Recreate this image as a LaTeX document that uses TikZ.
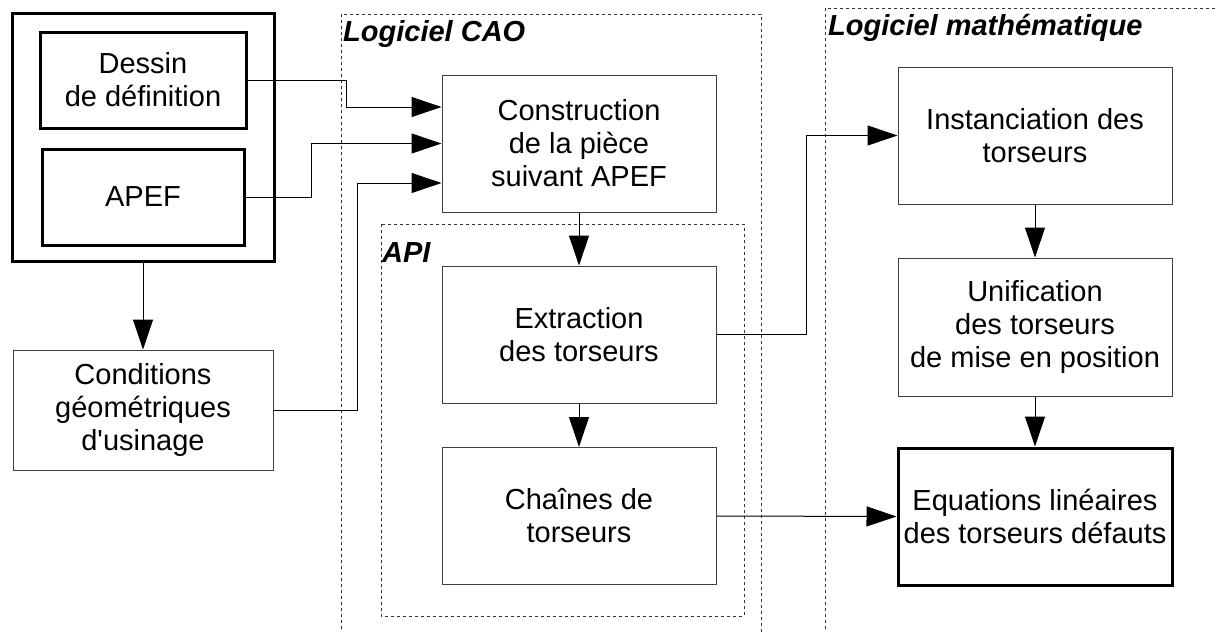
\documentclass[tikz,border=0pt]{standalone}
\usepackage{fontspec}
\setmainfont{Liberation Sans}
\usetikzlibrary{arrows.meta}

\tikzset{
  bloc/.style={draw=black!75, line width=1pt, align=center, inner sep=0pt,
    minimum width=274pt, minimum height=137pt, font=\fontsize{29}{33}\selectfont},
  blocfort/.style={bloc, draw=black, line width=3pt},
  cadre/.style={draw=black!80, line width=1pt, dash pattern=on 3pt off 3pt},
  titre/.style={anchor=base west, inner sep=0pt, font=\fontsize{29}{33}\selectfont\bfseries\itshape},
  flux/.style={draw=black, line width=1pt, -{Triangle[length=30pt,width=20pt]}}
}

\begin{document}
\begin{tikzpicture}[x=1pt,y=-1pt]
    \useasboundingbox (0,0) rectangle (1216,632);
    \clip (0,0) rectangle (1216,632);
    % cadres en pointilles
    \draw[cadre] (341,14) rectangle (761,650);
    \draw[cadre] (825,8) rectangle (1230,650);
    \draw[cadre] (381,224) rectangle (744,616);
    \node[titre] (tcao) at (343,41) {Logiciel CAO};
    \node[titre] (tmath) at (828,35) {Logiciel math\'ematique};
    \node[titre] (tapi) at (382,262) {API};
    % donnees d'entree
    \node[blocfort, minimum width=262pt, minimum height=248pt] (entree) at (143,137) {};
    \node[blocfort, minimum width=206pt, minimum height=96pt] (dessin) at (143,80) {Dessin\\de d\'efinition};
    \node[blocfort, minimum width=202pt, minimum height=96pt] (apef) at (143,197) {APEF};
    \node[bloc, minimum width=260pt, minimum height=120pt] (cond) at (143,410) {Conditions\\g\'eom\'etriques\\d\textquotesingle usinage};
    % logiciel CAO
    \node[bloc] (constr) at (579,143.5) {Construction\\de la pi\`ece\\suivant APEF};
    \node[bloc] (extr) at (579,334.5) {Extraction\\des torseurs};
    \node[bloc] (chaines) at (579,516) {Cha\^ines de\\torseurs};
    % logiciel mathematique
    \node[bloc] (inst) at (1035,135.5) {Instanciation des\\torseurs};
    \node[bloc, minimum height=138pt] (unif) at (1035,327) {Unification\\des torseurs\\de mise en position};
    \node[blocfort] (equa) at (1035,516.5) {Equations lin\'eaires\\des torseurs d\'efauts};
    % liaisons
    \draw[flux] (entree.south) -- (cond.north);
    \draw[flux] (dessin.east) -- ++(99,0) |- ([yshift=36.5pt]constr.west);
    \draw[flux] (apef.east) -- ++(66,0) |- (constr.west);
    \draw[flux] (cond.east) -- ++(84,0) |- ([yshift=-39.5pt]constr.west);
    \draw[flux] (constr.south) -- (extr.north);
    \draw[flux] (extr.south) -- (chaines.north);
    \draw[flux] (extr.east) -- ++(90,0) |- (inst.west);
    \draw[flux] (inst.south) -- (unif.north);
    \draw[flux] (unif.south) -- (equa.north);
    \draw[flux] (chaines.east) -- (equa.west);
\end{tikzpicture}
\end{document}
